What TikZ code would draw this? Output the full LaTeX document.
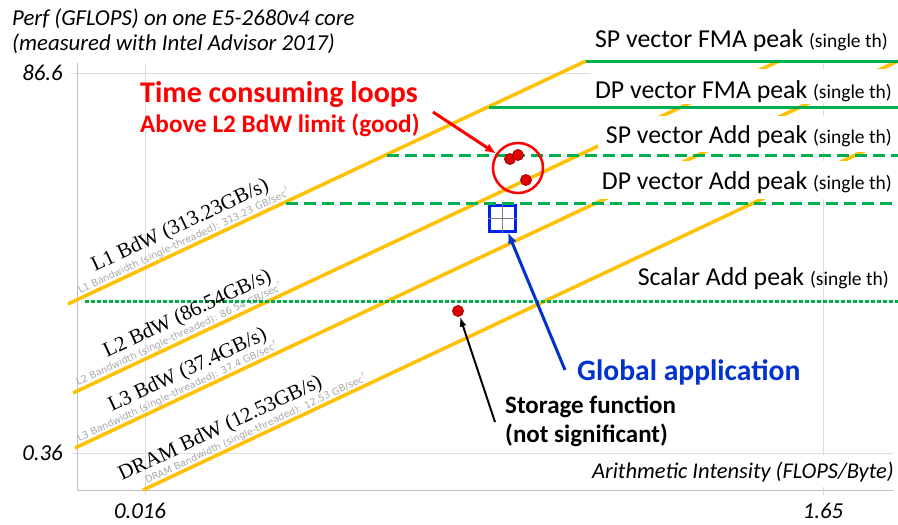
\documentclass[tikz,border=0pt]{standalone}
\usepackage{fontspec}
\setmainfont{Carlito}
\newfontfamily\serifL{Liberation Serif}
\newfontfamily\smallsans{DejaVu Sans}
\usetikzlibrary{arrows.meta}
\definecolor{roofor}{HTML}{FFC000}
\definecolor{roofgr}{HTML}{00B050}
\definecolor{gridc}{HTML}{DDDDDD}
\definecolor{axisc}{HTML}{C0C0C0}
\definecolor{bwgray}{HTML}{A8A8A8}
\definecolor{appblue}{HTML}{0033CC}
\definecolor{sqblue}{HTML}{0022EE}
\definecolor{dotred}{HTML}{E00000}
\definecolor{hotred}{HTML}{FF0000}
\begin{document}
\begin{tikzpicture}[x=1pt,y=-1pt,
  bwline/.style={roofor, line width=3.5pt},
  ceilsolid/.style={roofgr, line width=3pt},
  ceildash/.style={roofgr, line width=3pt, dash pattern=on 12pt off 6pt},
  ceildot/.style={roofgr, line width=3pt, dash pattern=on 3.5pt off 2.5pt},
  gridl/.style={gridc, line width=0.8pt},
  axisl/.style={axisc, line width=1pt},
  bwlabel/.style={rotate=25.2, anchor=base west, inner sep=0pt, font=\serifL\fontsize{21}{25}\selectfont},
  bwsub/.style={rotate=25.2, anchor=base west, inner sep=0pt, text=bwgray, font=\smallsans\fontsize{9.6}{11}\selectfont},
  peaklabel/.style={anchor=base east, inner sep=0pt, font=\fontsize{25.8}{30}\selectfont},
  axlabel/.style={inner sep=0pt, font=\itshape\fontsize{22.8}{27}\selectfont},
  dotpt/.style={circle, fill=dotred, draw=red!60!black, line width=0.8pt, minimum size=11pt, inner sep=0pt},
  callout/.style={inner sep=0pt, anchor=base west, font=\bfseries\fontsize{25}{30}\selectfont}
]
\useasboundingbox (0,0) rectangle (898,525);
\fill[white] (0,0) rectangle (898,525);

% grid and axes
\draw[gridl] (145,63) -- (145,495);
\draw[gridl] (823,63) -- (823,495);
\draw[gridl] (71,73) -- (898,73);
\draw[gridl] (71,453) -- (893,453);
\draw[axisl] (77,63) -- (77,490) -- (893,490);

% small grey bandwidth captions
\node[bwsub] (s1) at (80,294) {L1 Bandwidth (single-threaded): 313.23 GB/sec\raisebox{5pt}{\fontsize{6}{7}\selectfont ?}};
\node[bwsub] (s2) at (78,386) {L2 Bandwidth (single-threaded): 86.54 GB/sec\raisebox{5pt}{\fontsize{6}{7}\selectfont ?}};
\node[bwsub] (s3) at (79,442) {L3 Bandwidth (single-threaded): 37.4 GB/sec\raisebox{5pt}{\fontsize{6}{7}\selectfont ?}};
\node[bwsub] (s4) at (147,484) {DRAM Bandwidth (single-threaded): 12.53 GB/sec\raisebox{5pt}{\fontsize{6}{7}\selectfont ?}};

% bandwidth roofs
\draw[bwline] (68,304) -- (586,61);
\draw[bwline] (73,393) -- (779,61);
\draw[bwline] (75,448) -- (898,61);
\draw[bwline] (143,490) -- (898,135);

% white label backgrounds
\fill[white] (591,69) rectangle (898,104);
\fill[white] (598,116) rectangle (898,152);
\fill[white] (601,161) rectangle (898,199);
\fill[white] (583,455) rectangle (898,487);

% peak labels
\node[peaklabel] (pk1) at (888,47) {SP vector FMA peak {\fontsize{19.5}{22}\selectfont (single th)}};
\node[peaklabel] (pk2) at (892,98) {DP vector FMA peak {\fontsize{19.5}{22}\selectfont (single th)}};
\node[peaklabel] (pk3) at (892,143) {SP vector Add peak {\fontsize{19.5}{22}\selectfont (single th)}};
\node[peaklabel] (pk4) at (892,189) {DP vector Add peak {\fontsize{19.5}{22}\selectfont (single th)}};
\node[peaklabel] (pk5) at (889,285) {Scalar Add peak {\fontsize{19.5}{22}\selectfont (single th)}};

% global application square
\node[draw=sqblue, line width=3pt, minimum size=26pt, inner sep=0pt] (glob) at (502,218) {};
\draw[gray, line width=0.8pt] (glob.north) -- (glob.south);
\draw[gray, line width=0.8pt] (glob.west) -- (glob.east);

% compute roofs
\draw[ceilsolid] (586,61) -- (898,61);
\draw[ceilsolid] (489,107) -- (898,107);
\draw[ceildash] (387,155) -- (898,155);
\draw[ceildash] (286,203) -- (898,203);
\draw[ceildot] (85,301) -- (898,301);

% bandwidth labels
\node[bwlabel] (b1) at (95,272) {L1 BdW (313.23GB/s)};
\node[bwlabel] (b2) at (107,358) {L2 BdW (86.54GB/s)};
\node[bwlabel] (b3) at (112,412) {L3 BdW (37.4GB/s)};
\node[bwlabel] (b4) at (122,481) {DRAM BdW (12.53GB/s)};

% axis texts
\node[axlabel, anchor=base west] (t1) at (12,25) {Perf (GFLOPS) on one E5-2680v4 core};
\node[axlabel, anchor=base west] (t2) at (12,50) {(measured with Intel Advisor 2017)};
\node[axlabel, anchor=base east] (y1) at (63,80) {86.6};
\node[axlabel, anchor=base east] (y2) at (63,460) {0.36};
\node[axlabel, anchor=base] (x1) at (140,518) {0.016};
\node[axlabel, anchor=base] (x2) at (823,518) {1.65};
\node[inner sep=0pt, anchor=base east, font=\itshape\fontsize{22.5}{26}\selectfont] (xl) at (894,478) {Arithmetic Intensity (FLOPS/Byte)};

% loops
\node[dotpt] (d1) at (510,159) {};
\node[dotpt] (d2) at (518,155) {};
\node[dotpt] (d3) at (526,180) {};
\node[dotpt] (d4) at (458,311) {};
\node[circle, draw=hotred, line width=2.5pt, minimum size=50pt, inner sep=0pt] (hot) at (518,168) {};

% callouts
\node[callout, text=hotred, font=\bfseries\fontsize{30}{35}\selectfont] (c1) at (140,102) {Time consuming loops};
\node[callout, text=hotred, font=\bfseries\fontsize{25.2}{30}\selectfont] (c2) at (140,132) {Above L2 BdW limit (good)};
\coordinate (c2a) at (433,112);
\draw[hotred, line width=3pt, -{Latex[length=11pt,width=9pt]}] (c2a) -- (hot);

\node[callout, text=appblue, font=\bfseries\fontsize{29.6}{35}\selectfont] (ga) at (577,380) {Global application};
\coordinate (gaa) at (565,370);
\draw[appblue, line width=3pt, -{Latex[length=11pt,width=9pt]}] (gaa) -- (glob);

\node[callout] (sf1) at (505,413) {Storage function};
\node[callout] (sf2) at (505,442) {(not significant)};
\coordinate (sfa) at (495,422);
\draw[black, line width=2pt, -{Latex[length=10pt,width=7pt]}] (sfa) -- (d4);
\end{tikzpicture}
\end{document}
